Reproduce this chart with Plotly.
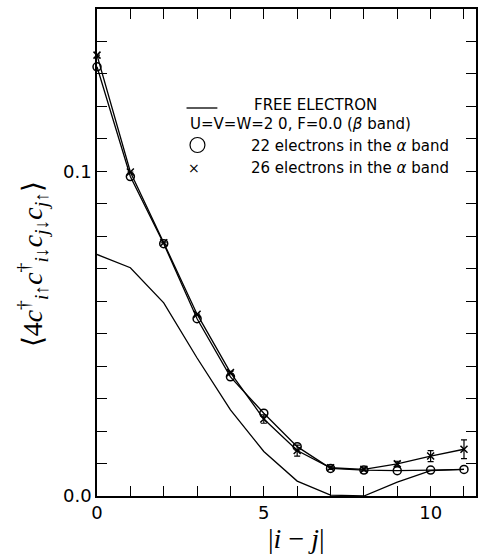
import plotly.graph_objects as go

# ---- data ----
distance = [0, 1, 2, 3, 4, 5, 6, 7, 8, 9, 10, 11]
free_electron = [0.0744, 0.0703, 0.0595, 0.0425, 0.0265, 0.0137, 0.0046, 0.0003, 0.0000, 0.0043, 0.0078, 0.0082]
alpha22 = [0.1322, 0.0984, 0.0777, 0.0546, 0.0367, 0.0255, 0.0152, 0.0085, 0.0080, 0.0078, 0.0080, 0.0082]
alpha26 = [0.1358, 0.0998, 0.0780, 0.0560, 0.0380, 0.0237, 0.0140, 0.0087, 0.0082, 0.0099, 0.0123, 0.0144]
alpha26_err = [0, 0, 0, 0, 0.0004, 0.0013, 0.0017, 0.0005, 0.0005, 0.0008, 0.0017, 0.0029]

x_ticks = [0, 5, 10]
x_ticktext = ["0", "5", "10"]
y_ticks = [0.0, 0.1]
y_ticktext = ["0.0", "0.1"]

legend_lines = [
    "FREE ELECTRON",
    "U=V=W=2 0, F=0.0 (<i>β</i> band)",
    "22 electrons in the <i>α</i> band",
    "26 electrons in the <i>α</i> band",
]

W, H = 479, 558
ML, MR, MT, MB = 97, 1, 9, 62
PW, PH = W - ML - MR, H - MT - MB


def px(x):
    return (x - ML) / PW


def py(y):
    return (H - MB - y) / PH


fig = go.Figure()

fig.add_trace(go.Scatter(
    x=distance, y=free_electron, mode="lines",
    line=dict(color="black", width=1.3), cliponaxis=False, showlegend=False))

fig.add_trace(go.Scatter(
    x=distance, y=alpha22, mode="lines+markers",
    line=dict(color="black", width=1.3),
    marker=dict(symbol="circle-open", size=8, color="black", line=dict(width=1.5)),
    cliponaxis=False, showlegend=False))

fig.add_trace(go.Scatter(
    x=distance, y=alpha26, mode="lines+markers",
    line=dict(color="black", width=1.3),
    marker=dict(symbol="x-thin-open", size=7, color="black", line=dict(width=1.5, color="black")),
    error_y=dict(type="data", array=alpha26_err, visible=True, color="black", thickness=1.2, width=3),
    cliponaxis=False, showlegend=False))

axis_common = dict(
    showline=True, linecolor="black", linewidth=1.5, mirror="allticks",
    ticks="inside", ticklen=10, tickwidth=1, tickcolor="black",
    showgrid=False, zeroline=False,
    tickfont=dict(family="DejaVu Sans", size=18, color="black"),
)

fig.update_xaxes(
    range=[0, 11.36], tickvals=x_ticks, ticktext=x_ticktext,
    minor=dict(dtick=1, tick0=0, ticks="inside", ticklen=10, tickwidth=1, tickcolor="black"),
    **axis_common)
fig.update_yaxes(
    range=[0, 0.15], tickvals=y_ticks, ticktext=y_ticktext,
    minor=dict(dtick=0.01, tick0=0, ticks="inside", ticklen=10, tickwidth=1, tickcolor="black"),
    **axis_common)

legend_font = dict(family="DejaVu Sans", size=15, color="black")
annotations = [
    dict(x=px(253), y=py(105), text=legend_lines[0]),
    dict(x=px(188), y=py(124), text=legend_lines[1]),
    dict(x=px(250), y=py(146), text=legend_lines[2]),
    dict(x=px(250), y=py(168), text=legend_lines[3]),
]
for a in annotations:
    a.update(xref="paper", yref="paper", xanchor="left", yanchor="middle",
             showarrow=False, font=legend_font)
annotations.append(dict(x=px(195), y=py(168), xref="paper", yref="paper", text="×",
                        xanchor="center", yanchor="middle",
                        showarrow=False, font=dict(family="DejaVu Sans", size=14, color="black")))
# axis titles
annotations.append(dict(
    x=px(298), y=py(538), xref="paper", yref="paper", showarrow=False,
    xanchor="center", yanchor="middle",
    text="|<i>i</i> − <i>j</i>|",
    font=dict(family="Liberation Serif", size=28, color="black")))
annotations.append(dict(
    x=px(32), y=py(264), xref="paper", yref="paper", showarrow=False, textangle=-90,
    xanchor="center", yanchor="middle",
    text="⟨4<i>c</i><sup>†</sup><sub><i>i</i>↑</sub><i>c</i><sup>†</sup><sub><i>i</i>↓</sub>"
         "<i>c</i><sub><i>j</i>↓</sub><i>c</i><sub><i>j</i>↑</sub>⟩",
    font=dict(family="Liberation Serif", size=28, color="black")))

shapes = [
    dict(type="line", xref="paper", yref="paper", x0=px(187), x1=px(218), y0=py(108), y1=py(108),
         line=dict(color="black", width=1.3)),
    dict(type="circle", xref="paper", yref="paper", x0=px(190.5), x1=px(205.5),
         y0=py(152.5), y1=py(137.5), line=dict(color="black", width=1.2)),
]

fig.update_layout(
    width=W, height=H, margin=dict(l=ML, r=MR, t=MT, b=MB),
    paper_bgcolor="white", plot_bgcolor="white",
    annotations=annotations, shapes=shapes, showlegend=False,
)

fig.write_html("out.html")
